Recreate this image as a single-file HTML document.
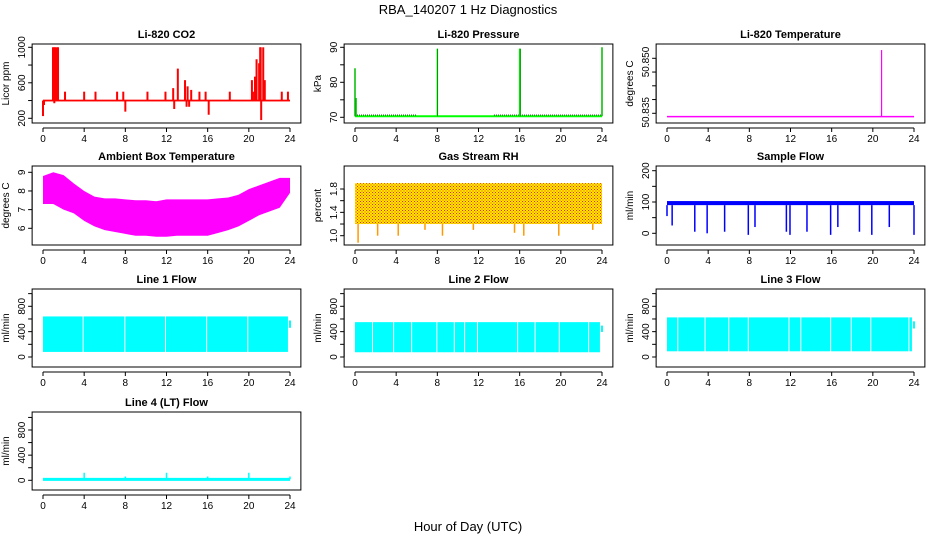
<!DOCTYPE html>
<html><head><meta charset="utf-8"><style>
body{margin:0;background:#fff}
svg{display:block}
text{font-family:"Liberation Sans",sans-serif;fill:#000}
.t{font-weight:bold;font-size:11px}
.tk{font-size:10px}
</style></head><body>
<svg id="chart" width="936" height="540" viewBox="0 0 936 540">
<defs>
<pattern id="rh" width="3" height="3" patternUnits="userSpaceOnUse"><rect width="3" height="3" fill="#ffee00"/><rect x="0" y="0" width="1" height="1" fill="#ff2000"/><rect x="1.5" y="1.5" width="1" height="1" fill="#ff2000"/></pattern>
</defs>
<text x="468" y="14" text-anchor="middle" font-size="13">RBA_140207  1 Hz Diagnostics</text>
<text x="468" y="531" text-anchor="middle" font-size="13">Hour of Day (UTC)</text>
</svg>
<script>
// ---- data ----
const hours=[0,4,8,12,16,20,24];
const co2Base=400;
const co2Spikes=[[0,225],[0.1,350],[0.97,1000],[1.05,1000],[1.15,1000],[1.23,1000],[1.1,370],[1.4,1000],[1.46,1000],[2.14,500],[4.0,500],[5.1,500],[7.2,500],[7.8,500],[8.0,275],[10.15,500],[11.9,500],[12.65,540],[12.75,305],[13.1,760],[13.8,630],[13.95,330],[14.05,560],[14.2,330],[14.4,520],[15.2,500],[15.8,500],[16.1,240],[18.15,500],[20.3,630],[20.4,500],[20.6,670],[20.75,865],[21.0,820],[21.1,1000],[21.15,1000],[21.2,180],[21.4,1000],[21.55,630],[23.2,500],[23.8,500]];
const presBase=70.3;
const presSpikes=[[0,84],[0.1,75.5],[8,89.6],[16,89.6],[16.05,89.6],[24,90]];
const tempBase=50.8338;
const tempSpike=[20.85,50.858];
const ambHours=[0,1,2,3,4,5,6,7,8,9,10,11,12,13,14,15,16,17,18,19,20,21,22,23,24];
const ambHi=[8.8,9.0,8.85,8.4,8.0,7.7,7.6,7.6,7.55,7.5,7.5,7.45,7.55,7.55,7.55,7.55,7.55,7.6,7.65,7.8,8.1,8.3,8.5,8.7,8.7];
const ambLo=[7.3,7.3,7.0,6.8,6.4,6.1,5.9,5.8,5.7,5.6,5.6,5.55,5.55,5.6,5.6,5.6,5.6,5.75,5.9,6.1,6.4,6.7,6.9,7.1,7.9];
const rhHi=1.9, rhLo=1.2;
const rhDips=[[0.3,0.88],[2.2,1.0],[4.2,1.0],[6.8,1.1],[8.5,1.0],[11.5,1.1],[15.5,1.05],[16.4,1.0],[19.8,1.0],[23.1,1.1]];
const flowBase=[90,103];
const flowDips=[[0,55],[0.5,25],[2.7,5],[3.9,0],[5.6,5],[7.9,-5],[8.55,20],[11.6,5],[11.95,-5],[13.6,5],[15.9,-5],[16.6,20],[18.7,5],[19.9,-5],[21.6,20],[24,-5]];
const line1=[640,80], line1Gaps=[3.9,7.95,11.9,15.9,19.9];
const line2=[550,75], line2Gaps=[1.7,3.75,5.5,7.95,9.65,10.65,11.9,15.8,17.5,19.85,22.7];
const line3=[625,90], line3Gaps=[1.05,3.7,6.0,7.9,11.85,13.0,15.9,17.9,19.8,23.5];
const line4Base=15;
const line4Spikes=[[4,120],[8,60],[12,120],[16,60],[20,120],[24,60]];

// ---- drawing ----
const svg=document.getElementById('chart');
const NS='http://www.w3.org/2000/svg';
function el(tag,attrs,parent){const e=document.createElementNS(NS,tag);for(const k in attrs)e.setAttribute(k,attrs[k]);(parent||svg).appendChild(e);return e;}
const cols=[{x0:43,x1:290},{x0:355,x1:602},{x0:667,x1:914}];
function panel(col,top,bot,y1v,y1p,y2v,y2p,title,ylab,ticks,labels,name){
  const c=cols[col];
  const g=el('g',{});
  
  
  const sx=(c.x1-c.x0)/24;
  const xm=t=>c.x0+t*sx;
  const ym=v=>y1p+(v-y1v)*(y2p-y1p)/(y2v-y1v);
  const L=c.x0-0.96*sx-1,R=c.x1+0.96*sx+1;
  const plot=el('g',{},g);
  
  
  const box=el('rect',{x:L,y:top,width:R-L,height:bot-top,fill:'none',stroke:'#000','stroke-width':1},g);
  
  
  const tt=el('text',{x:(L+R)/2,y:top-6,'text-anchor':'middle',class:'t'},g);tt.textContent=title;
  
  
  const xa=el('g',{},g);
  
  
  el('line',{x1:xm(0),x2:xm(24),y1:bot+5,y2:bot+5,stroke:'#000'},xa);
  hours.forEach(h=>{el('line',{x1:xm(h),x2:xm(h),y1:bot+5,y2:bot+9,stroke:'#000'},xa);
    const t=el('text',{x:xm(h),y:bot+19,'text-anchor':'middle',class:'tk'},xa);t.textContent=h;});
  const ya=el('g',{},g);
  
  
  const ax=L;
  el('line',{x1:ax,x2:ax,y1:ym(ticks[0]),y2:ym(ticks[ticks.length-1]),stroke:'#000'},ya);
  ticks.forEach(v=>el('line',{x1:ax-4,x2:ax,y1:ym(v),y2:ym(v),stroke:'#000'},ya));
  labels.forEach(([v,s])=>{const y=typeof v==='number'?ym(v):v.px;const t=el('text',{x:ax-7,y:y,'text-anchor':'middle',class:'tk',transform:`rotate(-90 ${ax-7} ${y})`},ya);t.textContent=s;});
  const yl=el('text',{x:ax-23,y:(top+bot)/2,'text-anchor':'middle',class:'tk',transform:`rotate(-90 ${ax-23} ${(top+bot)/2})`},ya);yl.textContent=ylab;
  
  
  return {xm,ym,g:plot};
}
function vline(p,t,a,b,col,w){el('line',{x1:p.xm(t),x2:p.xm(t),y1:p.ym(a),y2:p.ym(b),stroke:col,'stroke-width':w||1},p.g);}
function hline(p,a,b,v,col,w,dash){const e=el('line',{x1:p.xm(a),x2:p.xm(b),y1:p.ym(v),y2:p.ym(v),stroke:col,'stroke-width':w||1},p.g);if(dash)e.setAttribute('stroke-dasharray',dash);}

// CO2
let p=panel(0,44,123,1000,47.3,200,118.3,'Li-820 CO2','Licor ppm',[200,400,600,800,1000],[[200,'200'],[600,'600'],[1000,'1000']],'co2');
el('rect',{x:p.xm(0),y:p.ym(co2Base+10),width:p.xm(24)-p.xm(0),height:p.ym(co2Base-10)-p.ym(co2Base+10),fill:'#ff0000'},p.g);
co2Spikes.forEach(([t,v])=>vline(p,t,co2Base,v,'#ff0000',2));

// Pressure
p=panel(1,44,123,90,47.3,70,117.3,'Li-820 Pressure','kPa',[70,75,80,85,90],[[70,'70'],[80,'80'],[90,'90']],'pressure');
hline(p,0,24,presBase,'#00ff00',2);
hline(p,0,6,presBase+0.35,'#000',0.8,'1 1');hline(p,13.5,24,presBase+0.35,'#000',0.8,'1 1');
presSpikes.forEach(([t,v])=>{vline(p,t,presBase,v,'#00ff00',1.5);vline(p,t,presBase,v,'#000',0.4);});

// Temperature
p=panel(2,44,123,50.835,113.3,50.855,58.3,'Li-820 Temperature','degrees C',[50.835,50.84,50.845,50.85,50.855],[[{px:112.3},'50.835'],[{px:62},'50.850']],'li820-temp');
hline(p,0,24,tempBase,'#ff00ff',1.5);
vline(p,tempSpike[0],tempBase,tempSpike[1],'#ff00ff',1.2);

// Ambient
p=panel(0,166,245,9,172.3,6,228.3,'Ambient Box Temperature','degrees C',[6,7,8,9],[[6,'6'],[7,'7'],[8,'8'],[9,'9']],'ambient-temp');
{let pts=ambHours.map((h,i)=>p.xm(h)+','+p.ym(ambHi[i]));pts=pts.concat(ambHours.slice().reverse().map((h,j)=>{const i=ambHours.length-1-j;return p.xm(h)+','+p.ym(ambLo[i]);}));
el('polygon',{points:pts.join(' '),fill:'#ff00ff'},p.g);}

// RH
p=panel(1,166,245,1.8,189,1.0,235.7,'Gas Stream RH','percent',[1.0,1.2,1.4,1.6,1.8],[[1.0,'1.0'],[1.4,'1.4'],[1.8,'1.8']],'rh');
el('rect',{x:p.xm(0),y:p.ym(rhHi),width:p.xm(24)-p.xm(0),height:p.ym(rhLo)-p.ym(rhHi),fill:'url(#rh)'},p.g);
rhDips.forEach(([t,v])=>vline(p,t,rhLo,v,'#ff9900',1.5));

// Sample flow
p=panel(2,166,245,200,170.7,0,233.3,'Sample Flow','ml/min',[0,50,100,150,200],[[0,'0'],[100,'100'],[200,'200']],'sample-flow');
el('rect',{x:p.xm(0),y:p.ym(flowBase[1]),width:p.xm(24)-p.xm(0),height:p.ym(flowBase[0])-p.ym(flowBase[1]),fill:'#0000ff'},p.g);
flowDips.forEach(([t,v])=>vline(p,t,flowBase[0],v,'#0000ff',1.5));

// Line flows
function lineFlow(col,top,bot,v0,p0,v1,p1,title,band,gaps,name){
  const q=panel(col,top,bot,v0,p0,v1,p1,title,'ml/min',[0,200,400,600,800,1000],[[0,'0'],[400,'400'],[800,'800']],name);
  const edges=[0].concat(gaps,[23.85]);
  for(let i=0;i<edges.length-1;i++){const a=edges[i]+(i?0.05:0),b=edges[i+1]-0.05;
    el('rect',{x:q.xm(a),y:q.ym(band[0]),width:q.xm(b)-q.xm(a),height:q.ym(band[1])-q.ym(band[0]),fill:'#00ffff'},q.g);}
  vline(q,24,band[0]*0.9,band[0]*0.72,'#00ffff',2);
  return q;
}
lineFlow(0,289,367,0,357,800,306.3,'Line 1 Flow',line1,line1Gaps,'line1-flow');
lineFlow(1,289,367,0,357,800,306.3,'Line 2 Flow',line2,line2Gaps,'line2-flow');
lineFlow(2,289,367,0,357,800,306.3,'Line 3 Flow',line3,line3Gaps,'line3-flow');

// Line 4
p=panel(0,412,490,0,480.3,800,430,'Line 4 (LT) Flow','ml/min',[0,200,400,600,800,1000],[[0,'0'],[400,'400'],[800,'800']],'line4-flow');
hline(p,0,24,line4Base,'#00ffff',3);
line4Spikes.forEach(([t,v])=>vline(p,t,line4Base,v,'#00ffff',1.5));
</script>
</body></html>
